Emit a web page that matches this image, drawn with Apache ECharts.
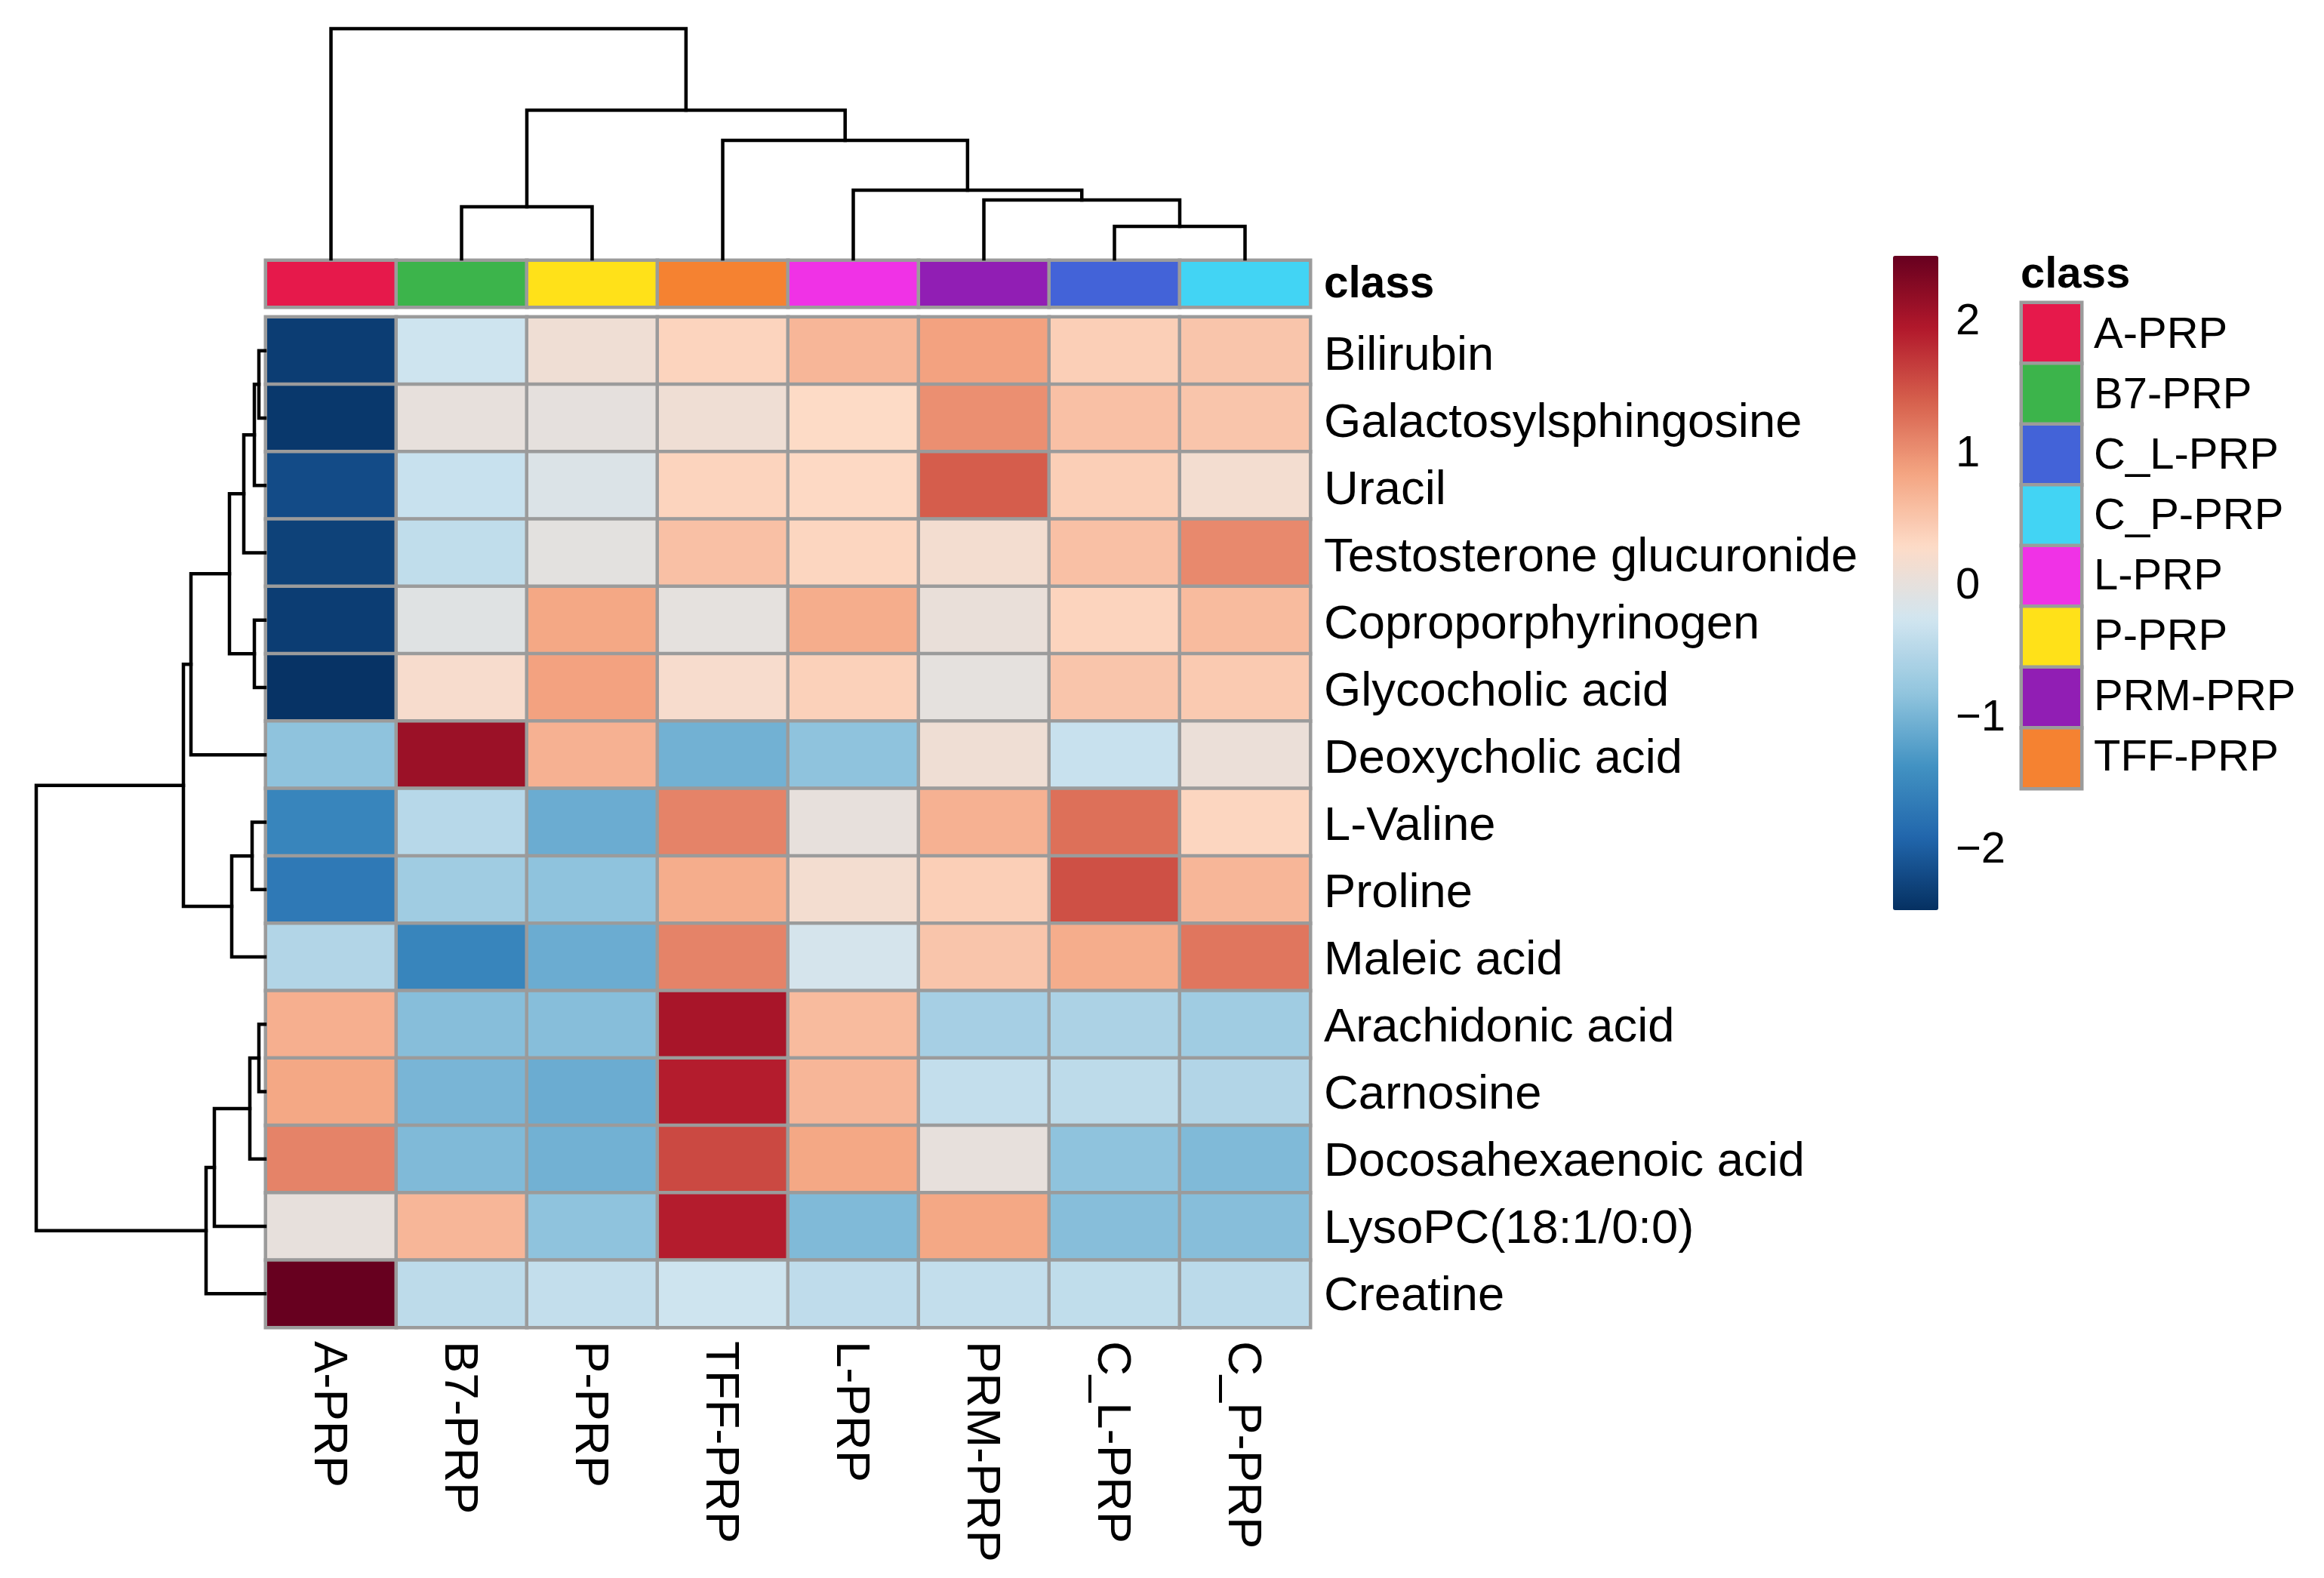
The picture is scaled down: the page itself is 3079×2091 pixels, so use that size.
<!DOCTYPE html>
<html><head><meta charset="utf-8">
<script src="https://cdn.jsdelivr.net/npm/echarts@6/dist/echarts.min.js"></script>
<style>html,body{margin:0;background:#fff}#c{width:3079px;height:2091px}</style></head>
<body><div id="c"></div>
<script>
const columns = ['A-PRP','B7-PRP','P-PRP','TFF-PRP','L-PRP','PRM-PRP','C_L-PRP','C_P-PRP'];
const rows = ['Bilirubin','Galactosylsphingosine','Uracil','Testosterone glucuronide','Coproporphyrinogen','Glycocholic acid','Deoxycholic acid','L-Valine','Proline','Maleic acid','Arachidonic acid','Carnosine','Docosahexaenoic acid','LysoPC(18:1/0:0)','Creatine'];
const bilirubin = [-2.35,-0.3,0.1,0.35,0.65,0.85,0.4,0.5];
const galactosylsphingosine = [-2.4,0,-0.02,0.1,0.28,1.0,0.55,0.5];
const uracil = [-2.2,-0.35,-0.15,0.35,0.3,1.4,0.4,0.15];
const testosterone = [-2.3,-0.42,-0.05,0.55,0.33,0.15,0.55,1.05];
const coproporphyrinogen = [-2.35,-0.1,0.8,-0.03,0.75,0.03,0.35,0.6];
const glycocholic = [-2.45,0.2,0.85,0.2,0.38,-0.03,0.5,0.45];
const deoxycholic = [-0.85,2.1,0.7,-1.05,-0.85,0.1,-0.35,0.05];
const valine = [-1.55,-0.5,-1.1,1.1,0,0.7,1.25,0.33];
const proline = [-1.7,-0.7,-0.85,0.75,0.15,0.4,1.5,0.65];
const maleic = [-0.55,-1.55,-1.1,1.1,-0.22,0.5,0.75,1.2];
const arachidonic = [0.72,-0.9,-0.9,2.0,0.6,-0.65,-0.6,-0.7];
const carnosine = [0.8,-1.0,-1.1,1.9,0.65,-0.4,-0.45,-0.55];
const docosahexaenoic = [1.1,-0.95,-1.05,1.55,0.8,0,-0.85,-0.95];
const lysopc = [0,0.65,-0.85,1.9,-0.95,0.8,-0.9,-0.9];
const creatine = [2.48,-0.45,-0.4,-0.3,-0.43,-0.4,-0.42,-0.47];
const matrix = [bilirubin,galactosylsphingosine,uracil,testosterone,coproporphyrinogen,glycocholic,deoxycholic,valine,proline,maleic,arachidonic,carnosine,docosahexaenoic,lysopc,creatine];
const palette = ['#053061','#2166ac','#4393c3','#92c5de','#d1e5f0','#fddbc7','#f4a582','#d6604d','#b2182b','#67001f'];
const classNames = ['A-PRP','B7-PRP','C_L-PRP','C_P-PRP','L-PRP','P-PRP','PRM-PRP','TFF-PRP'];
const classColors = {'A-PRP':'#e6194b','B7-PRP':'#3cb44b','C_L-PRP':'#4363d8','C_P-PRP':'#42d4f4','L-PRP':'#f032e6','P-PRP':'#ffe119','PRM-PRP':'#911eb4','TFF-PRP':'#f58231'};
const colorTicks = [-2,-1,0,1,2];
// dendrogram merges: [child, child, height]; number = leaf index, string = earlier merge id
const colMerges = [[6,7,43],[5,'m0',78],[4,'m1',91],[3,'m2',157],[1,2,69],['m4','m3',197],[0,'m5',305]];
const rowMerges = [[0,1,8],['m0',2,14],['m1',3,28],[4,5,14],['m2','m3',47],['m4',6,98],[7,8,17],['m6',9,44],['m5','m7',108],[10,11,8],['m9',12,20],['m10',13,67],['m11',14,78],['m8','m12',303]];

function segments(merges){
  const pos = [], h = [], out = [];
  merges.forEach((m,i)=>{
    const get = c => typeof c === 'number' ? [c+0.5,0] : [pos[+c.slice(1)],h[+c.slice(1)]];
    const a = get(m[0]), b = get(m[1]), ht = +m[2];
    pos[i] = (a[0]+b[0])/2; h[i] = ht;
    out.push([a[0],a[1],b[0],b[1],ht]);
  });
  return out;
}
const dendStyle = {stroke:'#000',lineWidth:4.5,fill:null,lineCap:'square',lineJoin:'miter'};
function renderCol(p,api){
  const c=(x,y)=>api.coord([x,y]);
  return {type:'polyline',shape:{points:[c(api.value(0),api.value(1)),c(api.value(0),api.value(4)),c(api.value(2),api.value(4)),c(api.value(2),api.value(3))]},style:dendStyle};
}
function renderRow(p,api){
  const c=(h,y)=>api.coord([h,y]);
  return {type:'polyline',shape:{points:[c(api.value(1),api.value(0)),c(api.value(4),api.value(0)),c(api.value(4),api.value(2)),c(api.value(3),api.value(2))]},style:dendStyle};
}
const FONT='"Liberation Sans", Arial, sans-serif', GREY='#9b9b9b';
const cells=[]; matrix.forEach((r,i)=>r.forEach((v,j)=>cells.push([j,i,v])));
const annot=columns.map((c,j)=>({value:[j,0,j],itemStyle:{color:classColors[c]}}));
const legendCells=classNames.map((c,i)=>({value:[0,i,i],itemStyle:{color:classColors[c]}}));
const cellStyle={borderColor:GREY,borderWidth:4.5};
const L=352,W=1384;
const hide={show:false};
const blankX=(g,extra)=>Object.assign({gridIndex:g,axisLine:hide,axisTick:hide,axisLabel:hide,splitLine:hide},extra);
const option={
  animation:false,backgroundColor:'#fff',textStyle:{fontFamily:FONT},
  title:[{text:'class',left:2672,top:331,textStyle:{fontFamily:FONT,fontSize:58,fontWeight:'bold',color:'#000'}}],
  grid:[
    {left:L,top:420,width:W,height:1339},
    {left:L,top:345,width:W,height:62},
    {left:L,top:38,width:W,height:305},
    {left:48,top:420,width:303,height:1339},
    {left:2509,top:252,width:60,height:1050},
    {left:2678,top:401,width:80,height:644},
    // label-only grids, offset slightly from the cells they annotate
    {left:L,top:428,width:W,height:1335},
    {left:L-4,top:420,width:W,height:1339},
    {left:2678,top:405,width:80,height:640},
    {left:L,top:347,width:W,height:62}
  ],
  xAxis:[
    blankX(0,{type:'category',data:columns}),
    blankX(1,{type:'category',data:columns}),
    blankX(2,{type:'value',min:0,max:8}),
    blankX(3,{type:'value',min:0,max:303,inverse:true}),
    blankX(4,{type:'value',min:0,max:1}),
    blankX(5,{type:'category',data:['class']}),
    blankX(6,{type:'value',min:0,max:1}),
    {type:'category',gridIndex:7,data:columns,position:'bottom',axisLine:hide,axisTick:hide,splitLine:hide,
     axisLabel:{interval:0,rotate:-90,margin:18,fontSize:63.5,color:'#000',fontFamily:FONT}},
    blankX(8,{type:'value',min:0,max:1}),
    blankX(9,{type:'value',min:0,max:1})
  ],
  yAxis:[
    blankX(0,{type:'category',data:rows,inverse:true}),
    blankX(1,{type:'category',data:['class']}),
    blankX(2,{type:'value',min:0,max:305}),
    blankX(3,{type:'value',min:0,max:15,inverse:true}),
    {type:'value',gridIndex:4,min:-3,max:3,position:'right',axisLine:hide,axisTick:hide,splitLine:hide,
     axisLabel:{customValues:colorTicks,margin:22,fontSize:58,color:'#000',fontFamily:FONT,align:'left',showMinLabel:true,showMaxLabel:true,
       formatter:v=>String(v).replace('-','\u2212')}},
    blankX(5,{type:'category',data:classNames,inverse:true}),
    {type:'category',gridIndex:6,data:rows,inverse:true,position:'right',axisLine:hide,axisTick:hide,splitLine:hide,
     axisLabel:{interval:0,margin:18,fontSize:63.3,color:'#000',fontFamily:FONT,align:'left'}},
    blankX(7,{type:'value',min:0,max:1}),
    {type:'category',gridIndex:8,data:classNames,inverse:true,position:'right',axisLine:hide,axisTick:hide,splitLine:hide,
     axisLabel:{interval:0,margin:16,fontSize:58,color:'#000',fontFamily:FONT,align:'left'}},
    {type:'category',gridIndex:9,data:['class'],position:'right',axisLine:hide,axisTick:hide,splitLine:hide,
     axisLabel:{margin:18,fontSize:58.5,fontWeight:'bold',color:'#000',fontFamily:FONT,align:'left'}}
  ],
  visualMap:[{type:'continuous',seriesIndex:0,min:-2.48,max:2.48,calculable:false,realtime:false,hoverLink:false,
    left:2493,top:324,itemWidth:60,itemHeight:867,text:null,showLabel:false,
    inRange:{color:palette},textStyle:{fontSize:1,color:'rgba(0,0,0,0)'}}],
  series:[
    {type:'heatmap',xAxisIndex:0,yAxisIndex:0,data:cells,itemStyle:cellStyle,clip:false,progressive:0,emphasis:{disabled:true}},
    {type:'heatmap',xAxisIndex:1,yAxisIndex:1,data:annot,itemStyle:cellStyle,clip:false,emphasis:{disabled:true}},
    {type:'custom',xAxisIndex:2,yAxisIndex:2,coordinateSystem:'cartesian2d',clip:false,data:segments(colMerges),encode:{x:[0,2],y:[1,3,4]},renderItem:renderCol},
    {type:'custom',xAxisIndex:3,yAxisIndex:3,coordinateSystem:'cartesian2d',clip:false,data:segments(rowMerges),encode:{x:[1,3,4],y:[0,2]},renderItem:renderRow},
    {type:'heatmap',xAxisIndex:5,yAxisIndex:5,data:legendCells,itemStyle:cellStyle,clip:false,emphasis:{disabled:true}}
  ]
};
const chart=echarts.init(document.getElementById('c'),null,{renderer:'canvas'});
chart.setOption(option);
</script></body></html>
